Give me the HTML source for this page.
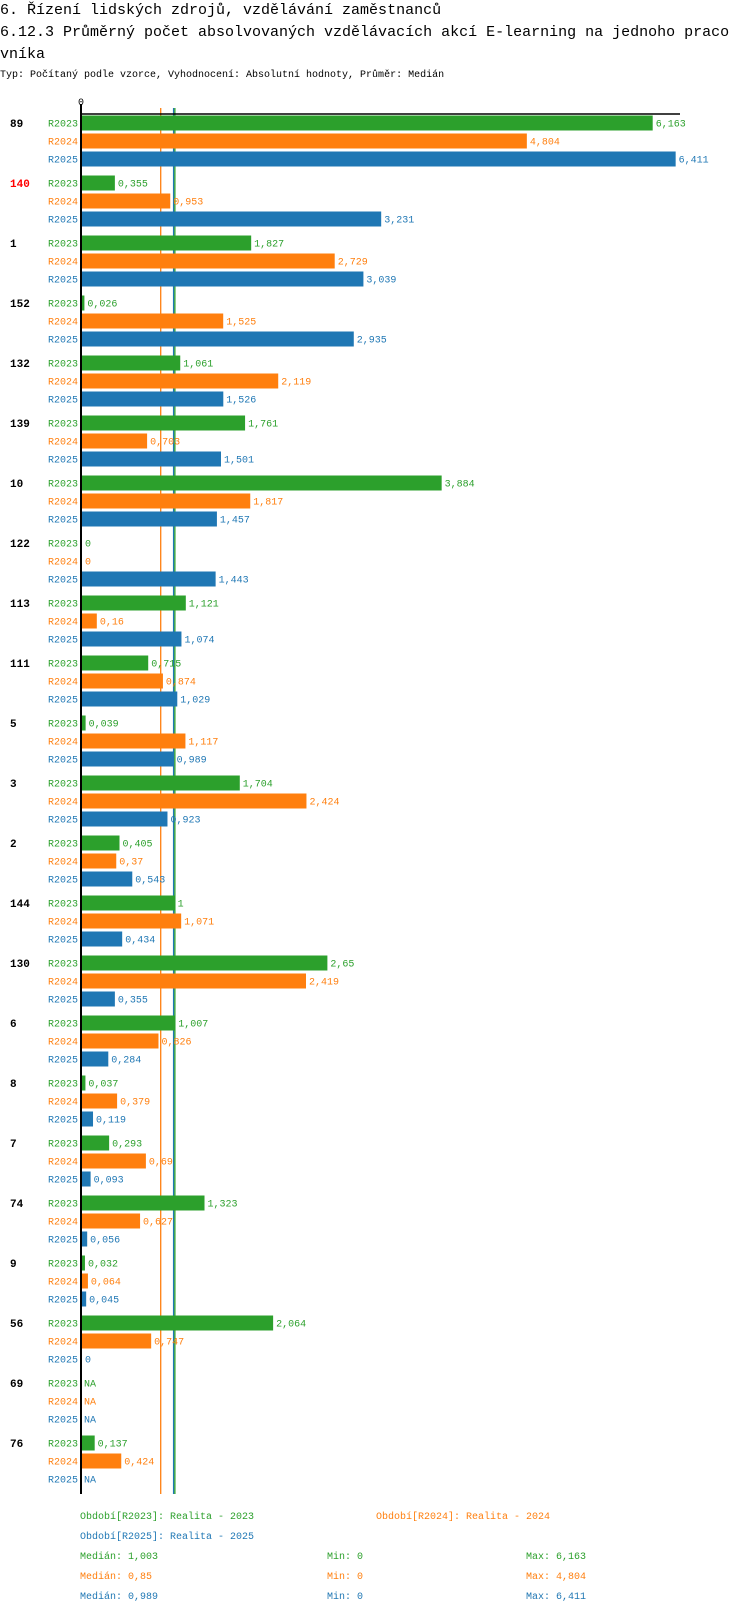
<!DOCTYPE html>
<html><head><meta charset="utf-8">
<style>
html,body{margin:0;padding:0;background:#fff;width:750px;height:1614px;overflow:hidden}
svg{display:block}
text{font-family:"Liberation Mono","DejaVu Sans Mono",monospace}
</style></head>
<body>
<svg id="chart" width="750" height="1614" xmlns="http://www.w3.org/2000/svg">
<text x="0" y="14" font-size="15">6. Řízení lidských zdrojů, vzdělávání zaměstnanců</text>
<text x="0" y="36" font-size="15">6.12.3 Průměrný počet absolvovaných vzdělávacích akcí E-learning na jednoho praco</text>
<text x="0" y="58" font-size="15">vníka</text>
<text x="0" y="77" font-size="10">Typ: Počítaný podle vzorce, Vyhodnocení: Absolutní hodnoty, Průměr: Medián</text>
<g id="plot"></g>
</svg>
<script>
const categories=["89","140","1","152","132","139","10","122","113","111","5","3","2","144","130","6","8","7","74","9","56","69","76"];
const r2023=[6.163,0.355,1.827,0.026,1.061,1.761,3.884,0,1.121,0.715,0.039,1.704,0.405,1,2.65,1.007,0.037,0.293,1.323,0.032,2.064,null,0.137];
const r2024=[4.804,0.953,2.729,1.525,2.119,0.703,1.817,0,0.16,0.874,1.117,2.424,0.37,1.071,2.419,0.826,0.379,0.69,0.627,0.064,0.747,null,0.424];
const r2025=[6.411,3.231,3.039,2.935,1.526,1.501,1.457,1.443,1.074,1.029,0.989,0.923,0.543,0.434,0.355,0.284,0.119,0.093,0.056,0.045,0,null,null];
const seriesNames=["R2023","R2024","R2025"];
const medians=[1.003,0.85,0.989];
const mins=[0,0,0];
const maxs=[6.163,4.804,6.411];
const highlighted=["140"];
const colors=["#2ca02c","#ff7f0e","#1f77b4"];
const NS="http://www.w3.org/2000/svg";
const g=document.getElementById('plot');
const X0=82, SCALE=92.6, TOP=123, GROUP=60, ROW=18;
const x=v=>X0+v*SCALE;
const yc=(i,s)=>TOP+i*GROUP+s*ROW;
function mk(tag,attrs,txt){const e=document.createElementNS(NS,tag);for(const k in attrs)e.setAttribute(k,attrs[k]);if(txt!==undefined)e.textContent=txt;g.appendChild(e);return e;}
const fmt=v=>String(v).replace('.',',');
const bottom=yc(categories.length-1,2)+15;
// median lines (behind bars)
[1,2,0].forEach(s=>{
  const e=mk('line',{x1:x(medians[s]),y1:108,x2:x(medians[s]),y2:bottom,stroke:colors[s],'stroke-width':1.3});
  
  
});
// axis
let e=mk('line',{x1:81,y1:104,x2:81,y2:bottom,stroke:'#000','stroke-width':2});


e=mk('line',{x1:80,y1:114,x2:680,y2:114,stroke:'#000','stroke-width':1.5});


e=mk('text',{x:78,y:105,'font-size':10},'0');


const series=[r2023,r2024,r2025];
categories.forEach((c,i)=>{
  e=mk('text',{x:10,y:yc(i,0)+4,'font-size':11,'font-weight':'bold',fill:highlighted.includes(c)?'#ff0000':'#000'},c);
  
  
  series.forEach((arr,s)=>{
    const cy=yc(i,s);
    e=mk('text',{x:78,y:cy+3.5,'font-size':10,'text-anchor':'end',fill:colors[s]},seriesNames[s]);
    
    
    const v=arr[i];
    if(v===null){
      e=mk('text',{x:84,y:cy+3.5,'font-size':10,fill:colors[s]},'NA');
      
      
      return;
    }
    if(v>0){
      e=mk('rect',{x:X0,y:cy-7.5,width:x(v)-X0,height:15,fill:colors[s]});
      
      
    }
    e=mk('text',{x:x(v)+3,y:cy+3.5,'font-size':10,fill:colors[s]},fmt(v));
    
    
  });
});
// legend
const legY=1519;
const legPos=[[80,legY],[376,legY],[80,legY+20]];
seriesNames.forEach((n,s)=>{
  e=mk('text',{x:legPos[s][0],y:legPos[s][1],'font-size':10,fill:colors[s]},'Období['+n+']: Realita - '+n.slice(1));
  
  
  const y=legY+40+s*20;
  e=mk('text',{x:80,y:y,'font-size':10,fill:colors[s]},'Medián: '+fmt(medians[s]));
  
  
  e=mk('text',{x:327,y:y,'font-size':10,fill:colors[s]},'Min: '+fmt(mins[s]));
  
  
  e=mk('text',{x:526,y:y,'font-size':10,fill:colors[s]},'Max: '+fmt(maxs[s]));
  
  
});
</script>
</body></html>
